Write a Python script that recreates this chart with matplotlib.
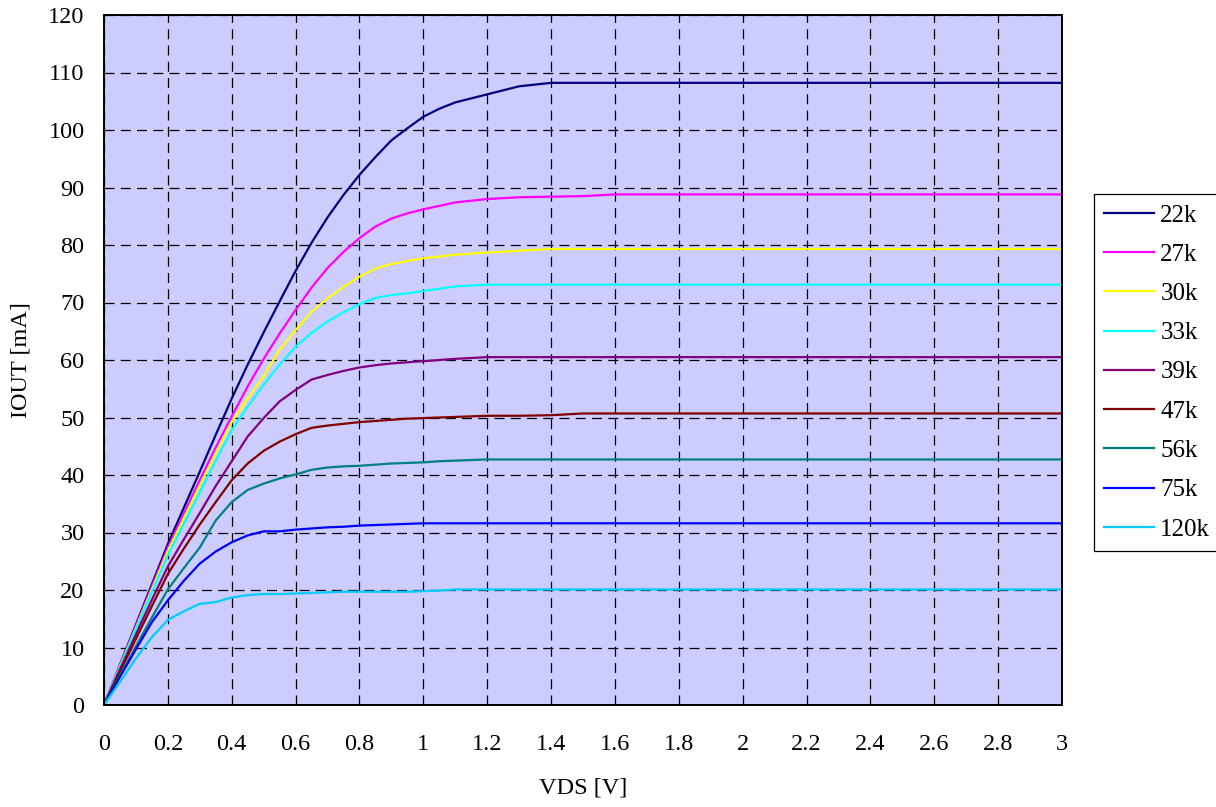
import numpy as np
import matplotlib
matplotlib.use('Agg')
import matplotlib.pyplot as plt

# Measured drain voltage points [V]
vds = [0, 0.05, 0.1, 0.15, 0.2, 0.25, 0.3, 0.35, 0.4, 0.45, 0.5, 0.55, 0.6, 0.65, 0.7,
       0.75, 0.8, 0.85, 0.9, 0.95, 1.0, 1.05, 1.1, 1.2, 1.3, 1.4, 1.5, 1.6, 2.0, 2.5, 3.0]

# Output current [mA] for each set resistor
i_22k = [0, 7.0, 14.0, 21.0, 28.0, 34.3, 40.6, 47.0, 53.3, 59.2, 64.8, 70.2, 75.5, 80.4, 84.8,
         88.7, 92.2, 95.3, 98.2, 100.3, 102.3, 103.7, 104.8, 106.2, 107.6, 108.2, 108.2, 108.2, 108.2, 108.2, 108.2]
i_27k = [0, 6.8, 13.7, 20.6, 27.4, 33.3, 39.1, 44.8, 50.2, 55.4, 60.2, 64.6, 68.7, 72.6, 76.0,
         78.8, 81.2, 83.2, 84.6, 85.5, 86.2, 86.8, 87.4, 88.0, 88.3, 88.4, 88.5, 88.8, 88.8, 88.8, 88.8]
i_30k = [0, 6.7, 13.4, 20.1, 26.8, 32.5, 38.2, 43.8, 49.2, 53.3, 57.2, 61.8, 65.2, 68.4, 70.7,
         72.7, 74.5, 75.9, 76.7, 77.2, 77.7, 78.0, 78.3, 78.7, 79.0, 79.3, 79.3, 79.3, 79.3, 79.3, 79.3]
i_33k = [0, 6.6, 13.2, 19.7, 26.1, 31.5, 37.0, 42.5, 47.8, 51.9, 55.7, 59.2, 62.3, 64.7, 66.7,
         68.3, 69.7, 70.8, 71.3, 71.6, 72.0, 72.4, 72.8, 73.1, 73.1, 73.1, 73.1, 73.1, 73.1, 73.1, 73.1]
i_39k = [0, 6.2, 12.3, 18.3, 24.1, 28.8, 33.4, 38.1, 42.4, 46.7, 49.9, 52.8, 54.8, 56.6, 57.4,
         58.1, 58.7, 59.1, 59.4, 59.6, 59.8, 60.0, 60.2, 60.5, 60.5, 60.5, 60.5, 60.5, 60.5, 60.5, 60.5]
i_47k = [0, 5.8, 11.5, 17.2, 22.8, 27.2, 31.4, 35.3, 39.1, 42.0, 44.2, 45.8, 47.1, 48.2, 48.6,
         48.9, 49.2, 49.4, 49.6, 49.8, 49.9, 50.0, 50.1, 50.3, 50.3, 50.4, 50.7, 50.7, 50.7, 50.7, 50.7]
i_56k = [0, 5.1, 10.2, 15.2, 20.1, 23.8, 27.4, 32.1, 35.3, 37.4, 38.5, 39.4, 40.1, 40.9, 41.3,
         41.5, 41.6, 41.8, 42.0, 42.1, 42.2, 42.4, 42.5, 42.7, 42.7, 42.7, 42.7, 42.7, 42.7, 42.7, 42.7]
i_75k = [0, 4.9, 9.7, 14.4, 18.2, 21.6, 24.6, 26.7, 28.3, 29.5, 30.2, 30.2, 30.5, 30.7, 30.9,
         31.0, 31.2, 31.3, 31.4, 31.5, 31.6, 31.6, 31.6, 31.6, 31.6, 31.6, 31.6, 31.6, 31.6, 31.6, 31.6]
i_120k = [0, 4.0, 8.1, 11.8, 14.8, 16.3, 17.6, 17.9, 18.7, 19.1, 19.3, 19.3, 19.4, 19.5, 19.6,
          19.7, 19.7, 19.7, 19.7, 19.7, 19.8, 19.9, 20.1, 20.1, 20.1, 20.1, 20.1, 20.1, 20.1, 20.1, 20.1]

labels = ['22k', '27k', '30k', '33k', '39k', '47k', '56k', '75k', '120k']
colors = ['#000080', '#FF00FF', '#FFFF00', '#00FFFF', '#800080',
          '#800000', '#008080', '#0000FF', '#00CCFF']
series = [i_22k, i_27k, i_30k, i_33k, i_39k, i_47k, i_56k, i_75k, i_120k]

x_ticks = np.arange(0, 3.01, 0.2)
x_tick_labels = ['0', '0.2', '0.4', '0.6', '0.8', '1', '1.2', '1.4', '1.6',
                 '1.8', '2', '2.2', '2.4', '2.6', '2.8', '3']
y_ticks = np.arange(0, 121, 10)

plt.rcParams['font.family'] = ['Liberation Serif', 'DejaVu Serif']

fig = plt.figure(figsize=(12.16, 8.07), dpi=100)
ax = fig.add_axes([104 / 1216, 1 - 705 / 807, (1062 - 104) / 1216, (705 - 15) / 807])
ax.set_facecolor('#CCCCFF')

for vals, lab, col in zip(series, labels, colors):
    ax.plot(vds, vals, color=col, lw=1.6, label=lab)

ax.set_xlim(0, 3)
ax.set_ylim(0, 120)
ax.set_xticks(x_ticks)
ax.set_xticklabels(x_tick_labels)
ax.set_yticks(y_ticks)
ax.tick_params(axis='x', direction='in', length=0, pad=21, labelsize=17.5)
ax.tick_params(axis='y', direction='in', length=0, pad=14, labelsize=17.5)
ax.grid(True, color='black', linestyle=(0, (8, 5)), linewidth=0.9)
for sp in ax.spines.values():
    sp.set_linewidth(1.4)

ax.set_xlabel('VDS [V]', fontsize=17.5, labelpad=16)
ax.set_ylabel('IOUT [mA]', fontsize=17.5, labelpad=12)

leg = ax.legend(loc='upper left', bbox_to_anchor=(1094 / 1216, 1 - 194 / 807),
                bbox_transform=fig.transFigure, borderaxespad=0, fontsize=18,
                frameon=True, fancybox=False, edgecolor='black', framealpha=1,
                handlelength=2.0, handletextpad=0.25, labelspacing=0.67,
                borderpad=0.4)
leg.get_frame().set_linewidth(0.9)

fig.savefig('out.png', dpi=100)
